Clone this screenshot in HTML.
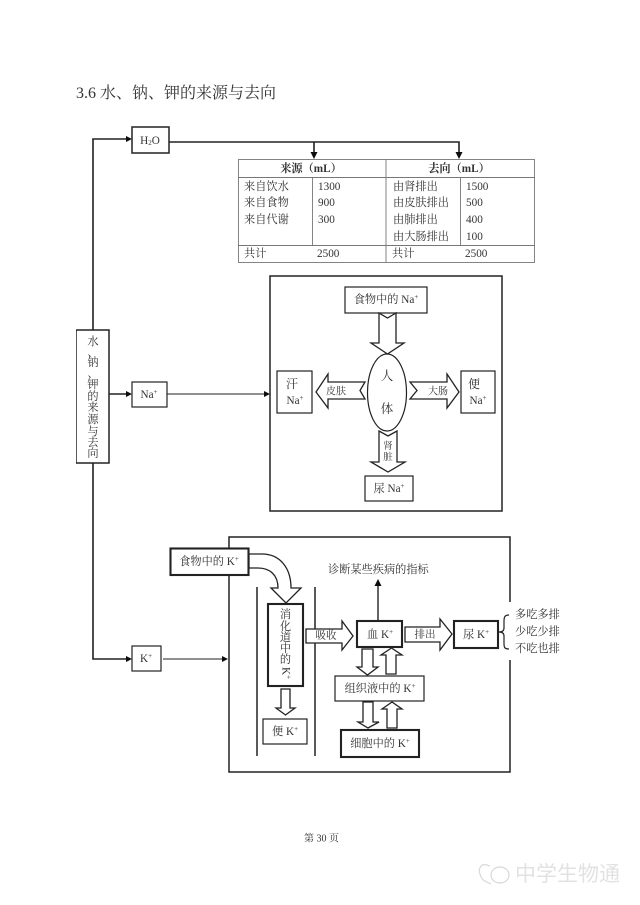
<!DOCTYPE html>
<html><head><meta charset="utf-8"><style>
html,body{margin:0;padding:0;background:#fff}
svg{display:block}
text{font-family:"Liberation Serif","Noto Serif CJK SC",serif;fill:#333;dominant-baseline:central;font-size:11.2px}
.m{text-anchor:middle}
.a{fill:#fff;stroke:#222;stroke-width:1.3}
.b{fill:#fff;stroke:#222;stroke-width:1.2}
.th{stroke-width:2.1}
.md{stroke-width:1.5}
.l{fill:none;stroke:#222;stroke-width:1.4}
.s{font-size:7px}
</style></head><body>
<svg width="640" height="905" viewBox="0 0 640 905" xmlns="http://www.w3.org/2000/svg">
<defs><filter id="bl" x="0" y="0" width="100%" height="100%"><feGaussianBlur stdDeviation="0.3"/></filter></defs>
<rect width="640" height="905" fill="#fff"/>
<g filter="url(#bl)">
<text x="76" y="93.5" style="font-size:16px">3.6 水、钠、钾的来源与去向</text>

<!-- left trunk -->
<path class="l" style="stroke-width:1.6" d="M93 330V139H126"/><path d="M132 139l-6-3v6z" fill="#111"/>
<path class="l" style="stroke-width:1.6" d="M93 463V659H126"/><path d="M132 659l-6-3v6z" fill="#111"/>
<path class="l" d="M109 394H126"/><path d="M132 394l-6-3v6z" fill="#111"/>
<rect class="b md" x="76" y="330" width="33" height="133"/>
<text class="m" x="93" y="342">水</text><text class="m" x="93" y="353">、</text>
<text class="m" x="93" y="363">钠</text><text class="m" x="93" y="374">、</text>
<text class="m" x="93" y="385">钾</text><text class="m" x="93" y="397">的</text>
<text class="m" x="93" y="408">来</text><text class="m" x="93" y="420">源</text>
<text class="m" x="93" y="432">与</text><text class="m" x="93" y="443">去</text>
<text class="m" x="93" y="454">向</text>

<!-- H2O -->
<rect class="b md" x="132" y="127" width="37" height="26"/>
<text class="m" x="150" y="141">H<tspan class="s" dy="2">2</tspan><tspan dy="-2">O</tspan></text>
<path class="l" style="stroke-width:1.6" d="M169 142H459V153M314 142V153"/>
<path d="M314 159l-3.5-7h7zM459 159l-3.5-7h7z" fill="#111"/>

<!-- table -->
<g fill="none" stroke="#777" stroke-width="0.9">
<rect x="238.5" y="159.5" width="296" height="103"/>
<path d="M238 177.5H535M238 245.5H535M386 159V262M312.5 177V245M460.5 177V245"/>
</g>
<text class="m" x="311" y="169" style="font-weight:bold">来源（mL）</text>
<text class="m" x="459" y="169" style="font-weight:bold">去向（mL）</text>
<text x="244" y="187">来自饮水</text><text x="318" y="187">1300</text>
<text x="244" y="203">来自食物</text><text x="318" y="203">900</text>
<text x="244" y="220">来自代谢</text><text x="318" y="220">300</text>
<text x="244" y="254">共计</text><text x="317" y="254">2500</text>
<text x="393" y="187">由肾排出</text><text x="466" y="187">1500</text>
<text x="393" y="203">由皮肤排出</text><text x="466" y="203">500</text>
<text x="393" y="220">由肺排出</text><text x="466" y="220">400</text>
<text x="393" y="237">由大肠排出</text><text x="466" y="237">100</text>
<text x="392" y="254">共计</text><text x="465" y="254">2500</text>

<!-- Na -->
<rect class="b" x="132" y="382" width="35" height="25"/>
<text class="m" x="149" y="395">Na<tspan class="s" dy="-3">+</tspan></text>
<path class="l" style="stroke-width:1.1" d="M167 394H264"/><path d="M270 394l-6-3v6z" fill="#111"/>
<rect class="b md" x="270" y="276" width="232" height="235"/>

<rect class="b" x="345" y="287" width="82" height="26"/>
<text class="m" x="386" y="300">食物中的 Na<tspan class="s" dy="-3">+</tspan></text>
<path class="a" d="M379 313L387.5 318L396 313V343H404L387.5 354L371 343H379Z"/>
<ellipse class="b" cx="387" cy="392.5" rx="19.5" ry="38.5"/>
<text class="m" x="387" y="376" style="font-size:12.5px">人</text>
<text class="m" x="387" y="409" style="font-size:12.5px">体</text>

<rect class="b" x="277" y="371" width="35" height="42"/>
<text class="m" x="292" y="384" style="font-size:12px">汗</text>
<text class="m" x="295" y="401">Na<tspan class="s" dy="-3">+</tspan></text>
<path class="a" d="M316 392L328 374V382H365L360 390.5L365 399H328V408Z"/>
<text class="m" x="336" y="392" style="font-size:10px">皮肤</text>

<path class="a" d="M410 382H447V374L459 392L447 408V399H410L417 390.5Z"/>
<text class="m" x="438" y="392" style="font-size:10px">大肠</text>
<rect class="b" x="461" y="371" width="34" height="42"/>
<text class="m" x="474" y="384" style="font-size:12px">便</text>
<text class="m" x="478" y="401">Na<tspan class="s" dy="-3">+</tspan></text>

<path class="a" d="M379 431L388 436L397 431V462H405L388 472L371 462H379Z"/>
<text class="m" x="388" y="447" style="font-size:9.5px">肾</text>
<text class="m" x="388" y="458" style="font-size:9.5px">脏</text>
<rect class="b" x="365" y="476" width="48" height="25"/>
<text class="m" x="389" y="489">尿 Na<tspan class="s" dy="-3">+</tspan></text>

<!-- K -->
<rect class="b" x="132" y="646" width="29" height="25"/>
<text class="m" x="146" y="659">K<tspan class="s" dy="-3">+</tspan></text>
<path class="l" style="stroke-width:1.1" d="M163 659H222"/><path d="M228 659l-6-3v6z" fill="#111"/>

<path class="l" style="stroke-width:1.5" d="M229 548V537H510V602M510 660V772H229V575"/>

<rect class="b th" x="170.5" y="548.5" width="78" height="26.5"/>
<text class="m" x="209" y="562">食物中的 K<tspan class="s" dy="-3">+</tspan></text>
<path class="a" d="M249 554H262C280 554 291 568 291 588H301L286 603L271 588H278C278 575 270 568 258 568H249Z"/>

<path class="l" style="stroke-width:1.5" d="M257 587V756M315 587V756"/>
<rect class="b th" x="268" y="604" width="35" height="82"/>
<text class="m" x="285.5" y="615">消</text>
<text class="m" x="285.5" y="627">化</text>
<text class="m" x="285.5" y="638">道</text>
<text class="m" x="285.5" y="649">中</text>
<text class="m" x="285.5" y="660">的</text>
<text class="m" transform="translate(285.5 673) rotate(90)">K<tspan class="s" dy="-3">+</tspan></text>

<path class="a" d="M281 689H290V708H295L285.5 715L276 708H281Z"/>
<rect class="b" x="263" y="719" width="44" height="25"/>
<text class="m" x="285" y="732">便 K<tspan class="s" dy="-3">+</tspan></text>

<path class="a" d="M306 629H342V621L353 636L342 650V643H306Z"/>
<text class="m" x="326" y="636" style="font-size:10.5px">吸收</text>

<rect class="b th" x="357" y="621" width="45" height="26"/>
<text class="m" x="380" y="635">血 K<tspan class="s" dy="-3">+</tspan></text>
<path class="l" d="M378 621V585"/><path d="M378 579l-3.5 7h7z" fill="#111"/>
<text x="328" y="570">诊断某些疾病的指标</text>

<path class="a" d="M405 627H440V619L452 634L440 650V642H405Z"/>
<text class="m" x="425" y="635" style="font-size:10.5px">排出</text>
<rect class="b th" x="454" y="621" width="44" height="27"/>
<text class="m" x="476" y="635">尿 K<tspan class="s" dy="-3">+</tspan></text>

<path class="l" style="stroke-width:1.2" d="M509 615C504 615 504 618 504 622V628C504 631 502 632 499 632C502 632 504 633 504 636V643C504 647 504 649 509 649"/>
<text x="515" y="615">多吃多排</text>
<text x="515" y="632">少吃少排</text>
<text x="515" y="649">不吃也排</text>

<path class="a" d="M362 649H373V667H378L367.5 675L357 667H362Z"/>
<path class="a" d="M391.5 648L402 655H396V674H386V655H381Z"/>
<rect class="b" x="335" y="676" width="89" height="25"/>
<text class="m" x="380" y="689">组织液中的 K<tspan class="s" dy="-3">+</tspan></text>
<path class="a" d="M363 702H373V722H379L368 728L358 722H363Z"/>
<path class="a" d="M392 702L402 709H397V728H387V709H382Z"/>
<rect class="b th" x="341" y="730" width="78" height="27"/>
<text class="m" x="380" y="744">细胞中的 K<tspan class="s" dy="-3">+</tspan></text>

<!-- footer -->
<text x="304" y="839" style="font-size:10px">第 30 页</text>
<!-- watermark -->
<g fill="none" stroke="#d8d8d8" stroke-width="1.2">
<path d="M490 866C481 862 477 868 481 877C483 881 487 882 491 884"/>
<ellipse cx="500" cy="875" rx="9" ry="8"/>
</g>
<text x="515" y="873" style="font-size:21px;fill:#e2e2e2;font-family:'Noto Sans CJK SC',sans-serif">中学生物通</text>
</g>
</svg>
</body></html>
